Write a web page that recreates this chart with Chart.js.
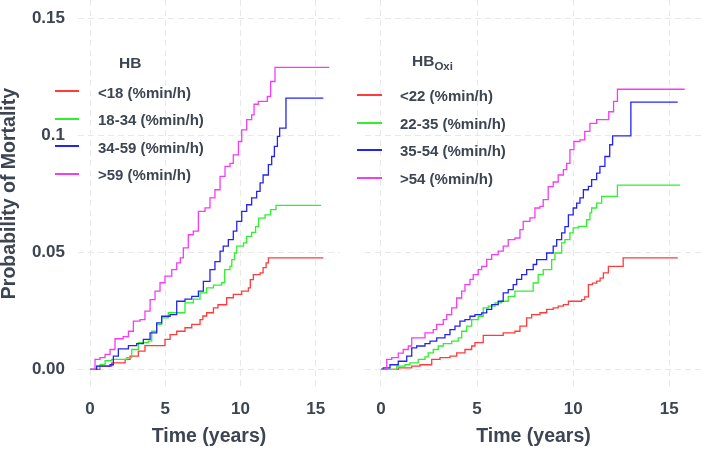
<!DOCTYPE html>
<html>
<head>
<meta charset="utf-8">
<script src="https://cdn.jsdelivr.net/npm/chart.js@4.4.1/dist/chart.umd.min.js"></script>
<style>
  html, body { margin: 0; padding: 0; background: #ffffff; }
  body { width: 702px; height: 449px; position: relative; overflow: hidden; font-family: "Liberation Sans", Arial, sans-serif; }
  canvas { position: absolute; top: 0; }
  .lg { position: absolute; font-weight: bold; color: #3d4452; white-space: nowrap; font-size: 15px; height: 20px; line-height: 20px; }
  .lt { position: absolute; font-weight: bold; color: #3d4452; white-space: nowrap; font-size: 15.5px; height: 20px; line-height: 20px; }
  .lt sub { font-size: 11.5px; vertical-align: -4px; }
  .ln { position: absolute; height: 1.5px; }
</style>
</head>
<body>
<canvas id="c1" width="345" height="449" style="left:0px"></canvas>
<canvas id="c2" width="351" height="449" style="left:351px"></canvas>
<div id="legends"></div>
<script>
// ---------- data ----------
const xTicks = [0, 5, 10, 15];
const xTickLabels = ["0", "5", "10", "15"];
const yTicks = [0, 0.05, 0.1, 0.15];
const yTickLabels = ["0.00", "0.05", "0.1", "0.15"];
const xTitle = "Time (years)";
const yTitle = "Probability of Mortality";

const colors = ["#ff3b3b", "#2ef02e", "#2424f2", "#f53cf5"];

// Panel 1: HB
const hbTitle = "HB";
const hbLabels = ["<18 (%min/h)", "18-34 (%min/h)", "34-59 (%min/h)", ">59 (%min/h)"];
const hbRedT = [0, 0.66, 1.44, 2.33, 2.66, 3.21, 3.65, 4.98, 5.32, 5.76, 6.31, 6.76, 7.31, 7.5, 7.75, 8.2, 8.5, 9.08, 9.52, 10.08, 10.52, 10.65, 10.85, 11.3, 11.5, 11.7, 11.85, 15.5];
const hbRedY = [0, 0.0014, 0.0028, 0.0043, 0.0057, 0.0078, 0.0102, 0.0128, 0.0149, 0.0163, 0.0178, 0.0192, 0.0213, 0.0228, 0.0242, 0.0263, 0.0276, 0.0306, 0.032, 0.0334, 0.0348, 0.0383, 0.0405, 0.0412, 0.0435, 0.0455, 0.0476, 0.0476];
const hbGreenT = [0, 0.44, 0.66, 1.0, 1.44, 2.44, 2.77, 3.21, 3.87, 4.1, 4.43, 4.76, 5.2, 6.31, 6.87, 7.31, 7.75, 8.2, 8.75, 8.95, 9.3, 9.42, 9.6, 9.75, 10.2, 10.4, 10.74, 11.0, 11.2, 11.63, 12.0, 12.36, 15.35];
const hbGreenY = [0, 0.0014, 0.002, 0.0038, 0.0043, 0.005, 0.0085, 0.0114, 0.0121, 0.0163, 0.0192, 0.022, 0.0242, 0.0284, 0.03, 0.0327, 0.0348, 0.036, 0.037, 0.0426, 0.044, 0.0469, 0.0497, 0.0526, 0.054, 0.0568, 0.0585, 0.061, 0.0646, 0.066, 0.0682, 0.07, 0.07];
const hbBlueT = [0, 0.44, 1.33, 1.55, 1.88, 2.55, 3.1, 3.54, 3.99, 4.43, 4.76, 5.32, 5.76, 6.31, 6.76, 7.2, 7.53, 7.97, 8.3, 8.64, 8.85, 9.19, 9.52, 9.75, 10.08, 10.41, 10.74, 11.07, 11.3, 11.5, 11.85, 12.07, 12.25, 12.45, 12.6, 13.02, 15.5];
const hbBlueY = [0, 0.0014, 0.002, 0.0057, 0.0088, 0.0102, 0.011, 0.0128, 0.0156, 0.0199, 0.0227, 0.0234, 0.0291, 0.03, 0.0312, 0.0334, 0.0376, 0.0426, 0.046, 0.0505, 0.0526, 0.0554, 0.059, 0.0632, 0.0675, 0.0703, 0.0732, 0.076, 0.0796, 0.083, 0.0874, 0.0909, 0.0952, 0.0995, 0.103, 0.1158, 0.1158];
const hbMagT = [0, 0.33, 0.66, 1.0, 1.33, 1.66, 2.2, 2.55, 2.88, 3.32, 3.65, 3.99, 4.32, 4.65, 4.98, 5.43, 5.76, 6.0, 6.2, 6.53, 6.86, 7.2, 7.64, 7.97, 8.3, 8.64, 8.97, 9.3, 9.52, 9.86, 10.08, 10.41, 10.74, 10.9, 11.18, 11.78, 12.0, 12.29, 15.9];
const hbMagY = [0, 0.0043, 0.005, 0.0064, 0.0085, 0.0131, 0.014, 0.0163, 0.0206, 0.0213, 0.0249, 0.0298, 0.0334, 0.037, 0.0398, 0.0426, 0.0455, 0.0476, 0.0519, 0.0575, 0.059, 0.0675, 0.069, 0.0732, 0.0767, 0.0824, 0.0867, 0.088, 0.0916, 0.0973, 0.1023, 0.1066, 0.1087, 0.1132, 0.1144, 0.1165, 0.1229, 0.1289, 0.1289];

// Panel 2: HB Oxi
const oxiTitleMain = "HB";
const oxiTitleSub = "Oxi";
const oxiLabels = ["<22 (%min/h)", "22-35 (%min/h)", "35-54 (%min/h)", ">54 (%min/h)"];
const oxRedT = [0, 0.9, 1.6, 2.03, 2.64, 3.07, 3.59, 3.94, 4.37, 4.72, 4.89, 5.32, 6.36, 6.97, 7.23, 7.58, 7.84, 8.27, 8.62, 8.96, 9.22, 9.49, 9.75, 10.44, 10.6, 10.79, 11.0, 11.22, 11.4, 11.57, 11.83, 12.6, 15.44];
const oxRedY = [0, 0.0007, 0.0014, 0.002, 0.0043, 0.005, 0.0057, 0.0071, 0.0085, 0.01, 0.0114, 0.0145, 0.0156, 0.0163, 0.0185, 0.022, 0.0234, 0.0242, 0.0256, 0.0263, 0.027, 0.0277, 0.0291, 0.0298, 0.031, 0.0362, 0.0368, 0.0377, 0.039, 0.0412, 0.044, 0.0476, 0.0476];
const oxGreenT = [0, 0.82, 1.25, 1.51, 1.94, 2.29, 2.46, 2.72, 2.98, 3.24, 3.68, 4.02, 4.2, 4.46, 4.72, 5.06, 5.32, 5.58, 5.93, 6.28, 6.62, 6.97, 7.92, 8.18, 8.44, 8.88, 9.05, 9.4, 9.57, 9.83, 10.0, 10.27, 10.7, 10.87, 10.96, 11.22, 11.48, 12.3, 15.56];
const oxGreenY = [0, 0.0014, 0.002, 0.0028, 0.0043, 0.0054, 0.0071, 0.0085, 0.01, 0.011, 0.0121, 0.0135, 0.0163, 0.0185, 0.0213, 0.0227, 0.0263, 0.027, 0.0284, 0.0291, 0.0312, 0.0334, 0.0369, 0.0405, 0.0426, 0.0469, 0.0497, 0.054, 0.0554, 0.0583, 0.0604, 0.0611, 0.0639, 0.0668, 0.0689, 0.071, 0.0739, 0.0787, 0.0787];
const oxBlueT = [0, 0.12, 0.47, 0.9, 1.34, 1.6, 1.86, 2.29, 2.55, 2.9, 3.33, 3.59, 3.85, 4.11, 4.37, 4.63, 4.89, 5.24, 5.5, 5.76, 6.1, 6.36, 6.62, 6.88, 7.06, 7.32, 7.58, 7.92, 8.1, 8.62, 8.96, 9.14, 9.4, 9.57, 9.75, 10.0, 10.18, 10.35, 10.53, 10.79, 10.96, 11.22, 11.39, 11.65, 11.9, 12.05, 13.0, 15.44];
const oxBlueY = [0, 0.0007, 0.002, 0.0035, 0.0057, 0.0092, 0.01, 0.011, 0.0121, 0.0135, 0.0149, 0.017, 0.0185, 0.0206, 0.0213, 0.0227, 0.0234, 0.0241, 0.0256, 0.0277, 0.0291, 0.0327, 0.0341, 0.0362, 0.0384, 0.0405, 0.0426, 0.0448, 0.0469, 0.0497, 0.0526, 0.0554, 0.0583, 0.061, 0.066, 0.0689, 0.071, 0.0732, 0.0767, 0.0781, 0.081, 0.0838, 0.0867, 0.0909, 0.0959, 0.0997, 0.1141, 0.1141];
const oxMagT = [0, 0.3, 0.56, 0.9, 1.16, 1.42, 1.6, 2.29, 2.72, 2.9, 3.24, 3.42, 3.68, 3.94, 4.2, 4.37, 4.63, 4.8, 5.06, 5.24, 5.5, 5.76, 6.1, 6.36, 6.62, 6.97, 7.23, 7.4, 7.75, 8.01, 8.27, 8.44, 8.7, 8.96, 9.22, 9.49, 9.66, 9.83, 10.04, 10.35, 10.6, 10.87, 11.22, 11.85, 12.1, 12.3, 15.8];
const oxMagY = [0, 0.0043, 0.005, 0.007, 0.0085, 0.01, 0.0135, 0.0156, 0.017, 0.0192, 0.0213, 0.0234, 0.0263, 0.0305, 0.0334, 0.0362, 0.0384, 0.0405, 0.0426, 0.044, 0.047, 0.049, 0.0505, 0.0526, 0.0554, 0.0561, 0.0597, 0.0632, 0.0647, 0.0689, 0.0696, 0.0725, 0.078, 0.080, 0.083, 0.0853, 0.088, 0.0938, 0.0973, 0.098, 0.1016, 0.105, 0.1066, 0.110, 0.1144, 0.1196, 0.1196];

// ---------- helpers ----------
const TEXT = "#3d4452";
const FONT = "'Liberation Sans', Arial, sans-serif";
function pts(t, y) { return t.map((v, i) => ({ x: v, y: y[i] })); }
function ds(label, t, y, color) {
  return { label, data: pts(t, y), borderColor: color, backgroundColor: color, borderWidth: 1.3,
           stepped: true, pointRadius: 0, fill: false, tension: 0 };
}
function setTicks(vals) { return function (scale) { scale.ticks = vals.map(v => ({ value: v })); }; }

function makeChart(id, datasets, cfg) {
  return new Chart(document.getElementById(id), {
    type: 'line',
    data: { datasets },
    options: {
      responsive: false, animation: false, devicePixelRatio: 1,
      layout: { padding: { left: 0, right: cfg.padRight, top: 0, bottom: 0 } },
      plugins: { legend: { display: false }, tooltip: { enabled: false } },
      scales: {
        x: {
          type: 'linear', min: cfg.xmin, max: cfg.xmax,
          afterBuildTicks: setTicks(xTicks),
          afterFit: s => { s.height = 62; s.paddingLeft = 0; s.paddingRight = 0; },
          grid: { color: '#e8e8e8', lineWidth: 1, drawTicks: false },
          border: { display: false, dash: [6, 4] },
          ticks: { color: TEXT, font: { family: FONT, size: 17, weight: 'bold' }, padding: 12,
                   maxRotation: 0, callback: (v) => xTickLabels[xTicks.indexOf(v)] },
          title: { display: true, text: xTitle, color: TEXT, padding: { top: 0, bottom: 1 },
                   font: { family: FONT, size: 19.5, weight: 'bold' } }
        },
        y: {
          type: 'linear', min: -0.0075, max: 0.1577,
          afterBuildTicks: setTicks(yTicks),
          afterFit: s => { s.width = cfg.yWidth; s.paddingTop = 0; s.paddingBottom = 0; },
          grid: { color: '#e8e8e8', lineWidth: 1, drawTicks: false },
          border: { display: false, dash: [6, 4] },
          ticks: { display: cfg.showY, color: TEXT, font: { family: FONT, size: 17, weight: 'bold' }, padding: 13,
                   callback: (v) => yTickLabels[yTicks.indexOf(v)] },
          title: { display: cfg.showY, text: yTitle, color: TEXT, padding: { top: 0, bottom: 0 },
                   font: { family: FONT, size: 19.5, weight: 'bold', lineHeight: 1.0 } }
        }
      }
    }
  });
}

makeChart('c1', [
  ds(hbLabels[3], hbMagT, hbMagY, colors[3]),
  ds(hbLabels[2], hbBlueT, hbBlueY, colors[2]),
  ds(hbLabels[1], hbGreenT, hbGreenY, colors[1]),
  ds(hbLabels[0], hbRedT, hbRedY, colors[0])
], { xmin: -0.8, xmax: 16.61, padRight: 5, yWidth: 78, showY: true });

makeChart('c2', [
  ds(oxiLabels[3], oxMagT, oxMagY, colors[3]),
  ds(oxiLabels[2], oxBlueT, oxBlueY, colors[2]),
  ds(oxiLabels[1], oxGreenT, oxGreenY, colors[1]),
  ds(oxiLabels[0], oxRedT, oxRedY, colors[0])
], { xmin: -0.83, xmax: 16.7, padRight: 0, yWidth: 14, showY: false });

// ---------- legends (HTML text) ----------
const lgRoot = document.getElementById('legends');
function addLegend(titleHtml, titleX, titleY, labels, lineX0, lineX1, lineYs, textX, textYs) {
  const t = document.createElement('div');
  t.className = 'lt'; t.innerHTML = titleHtml;
  t.style.left = titleX + 'px'; t.style.top = (titleY - 10) + 'px';
  lgRoot.appendChild(t);
  labels.forEach((lab, i) => {
    const ln = document.createElement('div');
    ln.className = 'ln'; ln.style.background = colors[i];
    ln.style.left = lineX0 + 'px'; ln.style.width = (lineX1 - lineX0) + 'px';
    ln.style.top = (lineYs[i] - 0.75) + 'px';
    lgRoot.appendChild(ln);
    const d = document.createElement('div');
    d.className = 'lg'; d.textContent = lab;
    d.style.left = textX + 'px'; d.style.top = (textYs[i] - 10) + 'px';
    lgRoot.appendChild(d);
  });
}
addLegend(hbTitle, 119, 63, hbLabels, 55, 79, [91, 119, 146, 174], 98, [92.5, 120, 147.5, 175]);
addLegend(oxiTitleMain + '<sub>' + oxiTitleSub + '</sub>', 412, 61, oxiLabels, 357, 382, [95, 123, 150, 178], 400, [96, 123.5, 151, 178.5]);
</script>
</body>
</html>
